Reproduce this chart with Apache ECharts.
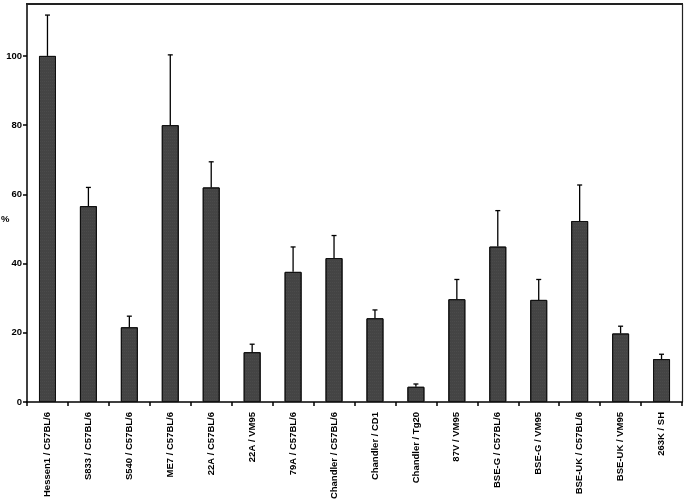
<!DOCTYPE html>
<html>
<head>
<meta charset="utf-8">
<script src="https://cdn.jsdelivr.net/npm/echarts@6/dist/echarts.min.js"></script>
<style>
  html, body { margin: 0; padding: 0; background: #fff; }
  #chart { width: 685px; height: 499px; }
</style>
</head>
<body>
<div id="chart"></div>
<script>
const categories = [
  "Hessen1 / C57BL/6", "S833 / C57BL/6", "S540 / C57BL/6", "ME7 / C57BL/6",
  "22A / C57BL/6", "22A / VM95", "79A / C57BL/6", "Chandler / C57BL/6",
  "Chandler / CD1", "Chandler / Tg20", "87V / VM95", "BSE-G / C57BL/6",
  "BSE-G / VM95", "BSE-UK / C57BL/6", "BSE-UK / VM95", "263K / SH"
];
const values = [100, 56.6, 21.6, 80, 62, 14.4, 37.6, 41.6, 24.2, 4.4, 29.7, 44.9, 29.5, 52.3, 19.8, 12.4];
const errorTops = [111.8, 62, 24.8, 100.3, 69.4, 16.7, 44.8, 48.1, 26.6, 5.2, 35.4, 55.3, 35.4, 62.7, 21.9, 13.8];
const yTicks = [0, 20, 40, 60, 80, 100];
const yMax = 115;

const chart = echarts.init(document.getElementById("chart"));

const labelFont = {
  fontFamily: "Liberation Sans, Arial, sans-serif",
  fontWeight: "bold",
  fontSize: 9.5,
  color: "#000"
};

const option = {
  animation: false,
  grid: {
    left: 27, right: 3, top: 4, bottom: 97,
    containLabel: false,
    outerBoundsMode: "none"
  },
  xAxis: {
    type: "category",
    data: categories,
    axisLine: { lineStyle: { color: "#000", width: 1.5 } },
    axisTick: { show: true, length: 4, lineStyle: { color: "#000", width: 1.5 } },
    axisLabel: Object.assign({ rotate: 90, margin: 10, interval: 0 }, labelFont),
    splitLine: { show: false }
  },
  yAxis: [
    {
      type: "value",
      min: 0, max: yMax, interval: 20,
      position: "left",
      axisLine: { show: true, lineStyle: { color: "#000", width: 1.5 } },
      axisTick: { show: true, length: 4, lineStyle: { color: "#000", width: 1.5 },
        customValues: yTicks },
      axisLabel: Object.assign({ margin: 5, customValues: yTicks,
        formatter: v => (yTicks.includes(v) ? String(v) : "") }, labelFont),
      splitLine: { show: false }
    },
    {
      type: "value",
      min: 0, max: yMax,
      position: "right",
      axisLine: { show: true, lineStyle: { color: "#222", width: 1.2 } },
      axisTick: { show: false },
      axisLabel: { show: false },
      splitLine: { show: false }
    }
  ],
  series: [
    {
      type: "bar",
      data: values,
      barWidth: 17,
      itemStyle: {
        color: "#444",
        borderColor: "#111",
        borderWidth: 1,
        decal: {
          symbol: "rect",
          symbolSize: 0.5,
          dashArrayX: [1, 1],
          dashArrayY: [1, 2],
          color: "rgba(150,150,150,0.35)"
        }
      }
    },
    {
      type: "custom",
      data: values.map((v, i) => [i, v, errorTops[i]]),
      z: 3,
      renderItem: (params, api) => {
        const base = api.coord([api.value(0), api.value(1)]);
        const top = api.coord([api.value(0), api.value(2)]);
        const half = 2.5;
        const style = { stroke: "#000", lineWidth: 1.3 };
        return {
          type: "group",
          children: [
            { type: "line", shape: { x1: base[0], y1: base[1], x2: top[0], y2: top[1] }, style },
            { type: "line", shape: { x1: top[0] - half, y1: top[1], x2: top[0] + half, y2: top[1] }, style }
          ]
        };
      }
    }
  ]
};

chart.setOption(option);

// "%" label and top frame line, placed from the grid rectangle
const rect = chart.getModel().getComponent("grid", 0).coordinateSystem.getRect();
chart.setOption({
  graphic: [
    {
      type: "text", z: 10,
      x: 1, y: 214,
      style: { text: "%", font: "bold 9.5px Liberation Sans, Arial, sans-serif", fill: "#000" }
    },
    {
      type: "rect", z: 10,
      shape: { x: rect.x - 1, y: rect.y - 1, width: rect.width + 2, height: 2 },
      style: { fill: "#222" }
    }
  ]
});
</script>
</body>
</html>
